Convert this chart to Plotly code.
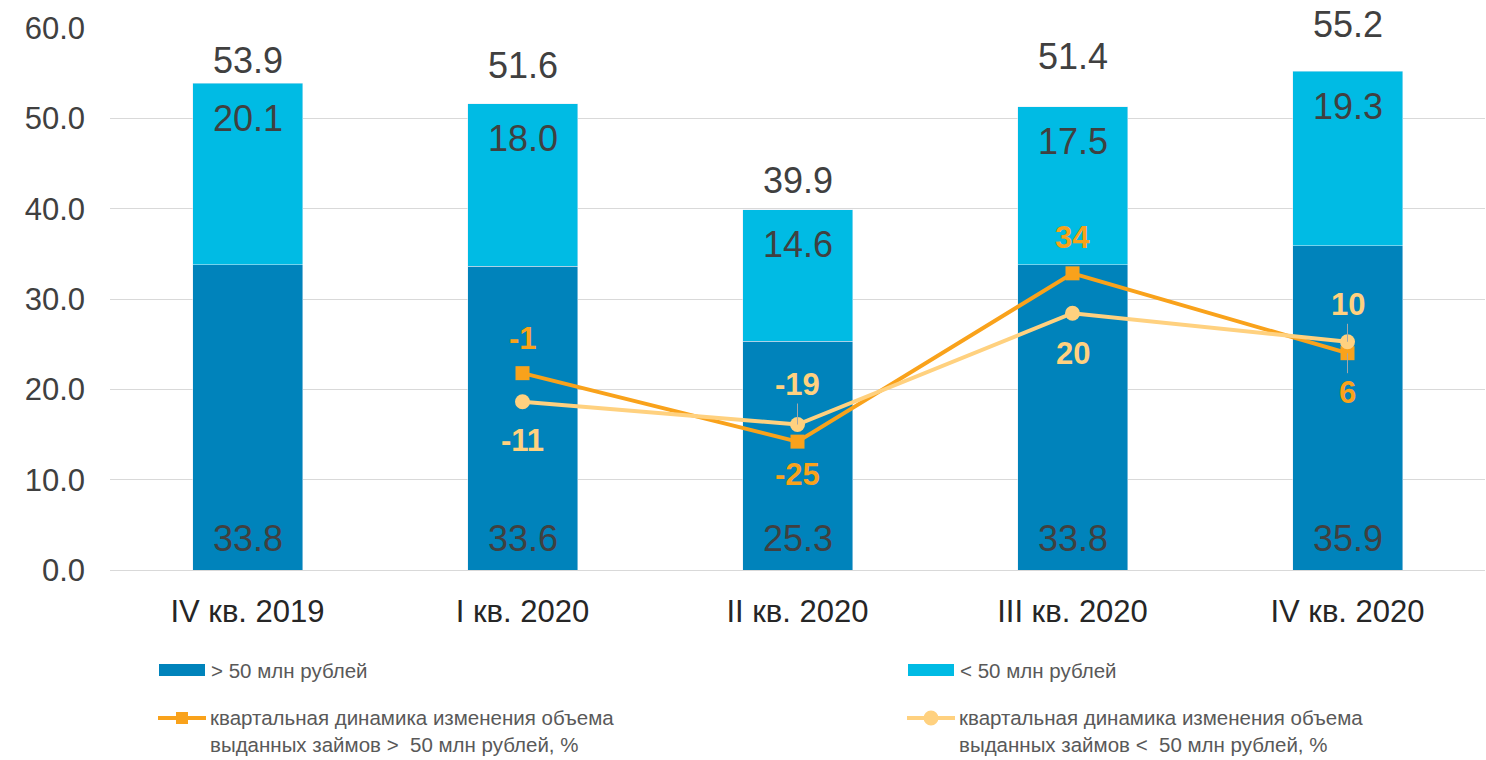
import plotly.graph_objects as go

categories = ["IV кв. 2019", "I кв. 2020", "II кв. 2020", "III кв. 2020", "IV кв. 2020"]
big = [33.8, 33.6, 25.3, 33.8, 35.9]
small = [20.1, 18.0, 14.6, 17.5, 19.3]
totals = [53.9, 51.6, 39.9, 51.4, 55.2]
dyn_big = [None, -1, -25, 34, 6]
dyn_small = [None, -11, -19, 20, 10]

name_big = "> 50 млн рублей"
name_small = "< 50 млн рублей"
name_dbig = "квартальная динамика изменения объема<br>выданных займов >  50 млн рублей, %"
name_dsmall = "квартальная динамика изменения объема<br>выданных займов <  50 млн рублей, %"

C_BIG = "#0083BB"
C_SMALL = "#00BBE4"
C_LBIG = "#F9A21B"
C_LSMALL = "#FFD17F"
TXT = "#404040"
LEG = "#595959"
FONT = "Liberation Sans, Arial, sans-serif"

fig = go.Figure()
fig.add_trace(go.Bar(x=categories, y=big, name=name_big, marker_color=C_BIG,
                     width=0.4, showlegend=False))
fig.add_trace(go.Bar(x=categories, y=small, name=name_small, marker_color=C_SMALL,
                     width=0.4, showlegend=False))
fig.add_trace(go.Scatter(x=categories, y=dyn_big, yaxis="y2", mode="lines+markers",
                         name=name_dbig, line=dict(color=C_LBIG, width=4),
                         marker=dict(symbol="square", size=14, color=C_LBIG),
                         showlegend=False))
fig.add_trace(go.Scatter(x=categories, y=dyn_small, yaxis="y2", mode="lines+markers",
                         name=name_dsmall, line=dict(color=C_LSMALL, width=4),
                         marker=dict(symbol="circle", size=15, color=C_LSMALL),
                         showlegend=False))

# total labels above the bars (pixel offsets as placed in the original)
total_shift = [23, 38, 29, 49, 47]
for i, c in enumerate(categories):
    fig.add_annotation(x=c, y=totals[i], text=f"{totals[i]:.1f}", showarrow=False,
                       yshift=total_shift[i], font=dict(size=36, color=TXT, family=FONT))

# inner bar value labels
for i, c in enumerate(categories):
    fig.add_annotation(x=c, y=0, text=f"{big[i]:.1f}", showarrow=False, yshift=32,
                       font=dict(size=36, color=TXT, family=FONT))
    fig.add_annotation(x=c, y=big[i] + small[i], text=f"{small[i]:.1f}", showarrow=False,
                       yshift=-35, font=dict(size=36, color=TXT, family=FONT))

# line value labels: offsets in pixels (negative = up), leader flag
big_pos = [None, -35, 33, -36, 39]
big_lead = [False, False, False, False, True]
small_pos = [None, 39, -40, 40, -37]
small_lead = [False, False, True, False, True]
for i in range(len(categories)):
    for vals, pos, lead, col in ((dyn_big, big_pos, big_lead, C_LBIG),
                                 (dyn_small, small_pos, small_lead, C_LSMALL)):
        if vals[i] is None:
            continue
        fig.add_annotation(x=categories[i], y=vals[i], yref="y2", text=f"<b>{vals[i]}</b>",
                           showarrow=True, arrowhead=0, arrowwidth=1,
                           arrowcolor="#A6A6A6" if lead[i] else "rgba(0,0,0,0)",
                           ax=0, ay=pos[i], standoff=0,
                           font=dict(size=31, color=col, family=FONT))

# custom legend (pixel positions converted to paper coordinates)
W, H = 1486, 760
ML, MR, MT, MB = 110, 1, 28, 190
PW, PH = W - ML - MR, H - MT - MB


def px(x):
    return (x - ML) / PW


def py(y):
    return (H - MB - y) / PH


legend_items = [
    ("bar", C_BIG, name_big, 159, 670),
    ("bar", C_SMALL, name_small, 908, 670),
    ("square", C_LBIG, name_dbig, 158, 718),
    ("circle", C_LSMALL, name_dsmall, 907, 718),
]
for kind, col, label, x0, yc in legend_items:
    if kind == "bar":
        fig.add_shape(type="rect", xref="paper", yref="paper",
                      x0=px(x0), x1=px(x0 + 46), y0=py(yc - 6), y1=py(yc + 6),
                      fillcolor=col, line_width=0)
        ty = yc
    else:
        fig.add_shape(type="line", xref="paper", yref="paper",
                      x0=px(x0), x1=px(x0 + 48), y0=py(yc), y1=py(yc),
                      line=dict(color=col, width=4))
        cx = x0 + 24
        if kind == "square":
            fig.add_shape(type="rect", xref="paper", yref="paper",
                          x0=px(cx - 6), x1=px(cx + 6), y0=py(yc - 6), y1=py(yc + 6),
                          fillcolor=col, line_width=0)
        else:
            fig.add_shape(type="circle", xref="paper", yref="paper",
                          x0=px(cx - 7.5), x1=px(cx + 7.5), y0=py(yc - 7.5), y1=py(yc + 7.5),
                          fillcolor=col, line_width=0)
        ty = yc + 13
    fig.add_annotation(xref="paper", yref="paper", x=px(x0 + 50), y=py(ty),
                       xanchor="left", yanchor="middle", align="left", showarrow=False,
                       text=label, font=dict(size=20.5, color=LEG, family=FONT))

fig.update_layout(
    barmode="stack",
    width=W, height=H,
    margin=dict(l=ML, r=MR, t=MT, b=MB, autoexpand=False),
    paper_bgcolor="white", plot_bgcolor="white",
    font=dict(family=FONT, color=TXT),
    showlegend=False,
    xaxis=dict(tickfont=dict(size=31, color="#262626"), showgrid=False,
               showline=True, linecolor="#D9D9D9", linewidth=1, ticks="",
               ticklabelstandoff=14),
    yaxis=dict(range=[0, 60], dtick=10, tickformat=".1f", tickfont=dict(size=31, color=TXT),
               showgrid=True, gridcolor="#D9D9D9", gridwidth=1, zeroline=False, ticks="",
               ticklabelstandoff=24),
    yaxis2=dict(range=[-70, 120], overlaying="y", side="right", visible=False),
)

fig.write_html("out.html", config={"displayModeBar": False},
               post_script="document.body.style.margin='0';")
